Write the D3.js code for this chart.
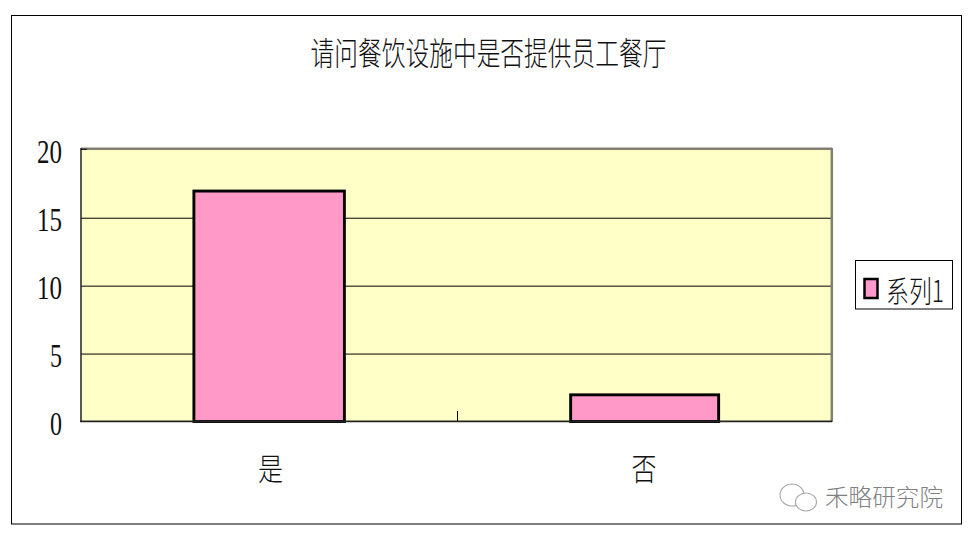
<!DOCTYPE html>
<html><head><meta charset="utf-8">
<script src="https://cdn.jsdelivr.net/npm/d3@7"></script>
<style>html,body{margin:0;background:#fff}svg{display:block}text{font-family:"Noto Sans CJK SC",serif;font-weight:300;fill:#111}</style>
</head><body><svg id="c" width="975" height="540"></svg>
<script>
const categories = ["是","否"];
const values = [17,2];
const yTicks = [0,5,10,15,20];
const seriesName = "系列1";
const title = "请问餐饮设施中是否提供员工餐厅";
const watermark = "禾略研究院";
const svg = d3.select("#c");
svg.append("rect").attr("x",11.5).attr("y",15.5).attr("width",950).attr("height",508.5).attr("fill","#fff").attr("stroke","#000");
const x = d3.scaleBand().domain(categories).range([81,832]);
const y = d3.scaleLinear().domain([0,20]).range([421.5,149.8]);
svg.append("rect").attr("x",81).attr("y",149).attr("width",751).attr("height",272.5).attr("fill","#ffffc8");
svg.append("g").selectAll("line").data(yTicks.filter(d=>d>0&&d<20)).join("line")
  .attr("x1",81).attr("x2",832).attr("y1",d=>y(d)+.5).attr("y2",d=>y(d)+.5).attr("stroke","#000");
svg.append("line").attr("x1",81).attr("x2",832).attr("y1",148.8).attr("y2",148.8).attr("stroke","#808070").attr("stroke-width",2.5);
svg.append("line").attr("x1",831.8).attr("x2",831.8).attr("y1",148).attr("y2",422).attr("stroke","#808070").attr("stroke-width",2.5);
const barWidths = [150.5,148];
svg.append("g").selectAll("rect").data(values).join("rect")
  .attr("x",(d,i)=>x(categories[i])+x.bandwidth()/2-barWidths[i]/2+.4).attr("width",(d,i)=>barWidths[i])
  .attr("y",d=>y(d)+.5).attr("height",d=>y(0)-y(d)-.5).attr("fill","#ff99c8").attr("stroke","#000").attr("stroke-width",2.9);
svg.append("line").attr("x1",80).attr("x2",832).attr("y1",421.3).attr("y2",421.3).attr("stroke","#222").attr("stroke-width",1.8);
svg.append("line").attr("x1",81).attr("x2",81).attr("y1",148).attr("y2",422).attr("stroke","#222").attr("stroke-width",1.5);
svg.append("line").attr("x1",457.5).attr("x2",457.5).attr("y1",411).attr("y2",421).attr("stroke","#000");
svg.append("line").attr("x1",81).attr("x2",87).attr("y1",y(20)-.5).attr("y2",y(20)-.5).attr("stroke","#000");
svg.append("g").selectAll("text").data(yTicks).join("text").attr("x",62).attr("y",d=>y(d)+13.5).attr("text-anchor","end")
  .attr("font-size",34).attr("textLength",d=>d>=10?25:12).attr("lengthAdjust","spacingAndGlyphs").style("font-family","Liberation Serif").style("font-weight",400).text(d=>d);
svg.append("g").selectAll("text").data(categories).join("text").attr("x",(d,i)=>i==0?270.5:644).attr("y",480)
  .attr("text-anchor","middle").attr("font-size",31).attr("textLength",25).attr("lengthAdjust","spacingAndGlyphs").text(d=>d);
svg.append("text").attr("x",488.5).attr("y",65).attr("text-anchor","middle").attr("font-size",32).attr("textLength",356).attr("lengthAdjust","spacingAndGlyphs").text(title);
svg.append("rect").attr("x",855.5).attr("y",260.5).attr("width",97).attr("height",48.5).attr("fill","#fff").attr("stroke","#000");
svg.append("rect").attr("x",864.5).attr("y",279).attr("width",13).attr("height",19).attr("fill","#ff99cc").attr("stroke","#000").attr("stroke-width",2.5);
svg.append("text").attr("x",886).attr("y",302).attr("font-size",30).attr("textLength",58).attr("lengthAdjust","spacingAndGlyphs").text(seriesName);
svg.append("text").attr("x",825).attr("y",506).attr("font-size",23.5).attr("textLength",118).attr("lengthAdjust","spacingAndGlyphs").style("fill","#808080").text(watermark);
const wm = svg.append("g").attr("fill","none").attr("stroke","#aaa").attr("stroke-width",1.1);
wm.append("ellipse").attr("cx",792).attr("cy",495).attr("rx",12).attr("ry",11);
wm.append("ellipse").attr("cx",806).attr("cy",502).attr("rx",10.5).attr("ry",9).attr("fill","#fff");
</script></body></html>
